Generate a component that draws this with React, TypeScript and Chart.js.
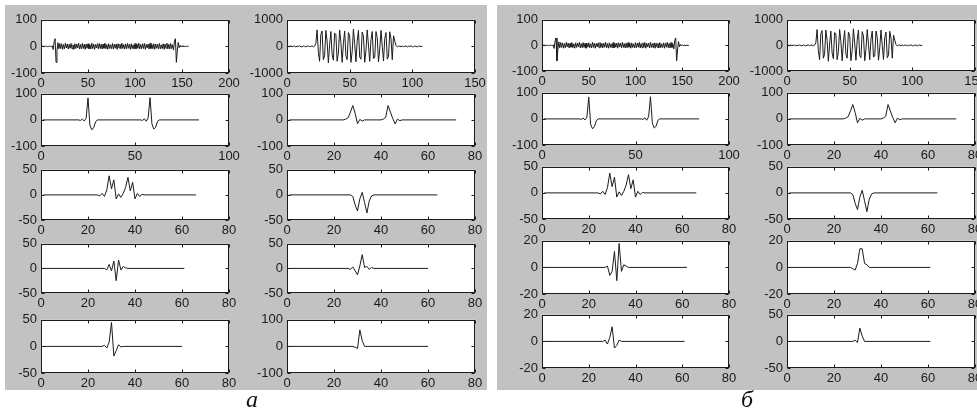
import React, { useEffect, useRef } from "react";
import { Chart, registerables } from "chart.js";
Chart.register(...registerables);

// ---------- data (sample index -> value) ----------
const sigA1: number[] = [
  0, 1, 0, -1, 1, 0, -1, 0, 1, 0, -1, 2, -12, 18, 29, -60, -16, 14, -9, 11,
  -8, 10, -11, 7, -9, 12, -6, 9, -10, 8, -7, 11, -9, 6, -11, 10, -8, 9, -6, 12,
  -10, 7, -9, 11, -8, 8, -11, 9, -7, 10, -9, 6, -10, 12, -8, 9, -11, 7, -6, 10,
  -9, 11, -8, 8, -10, 9, -7, 12, -9, 7, -11, 10, -8, 6, -9, 11, -10, 8, -7, 9,
  -11, 10, -6, 8, -9, 12, -8, 7, -10, 9, -9, 11, -7, 8, -11, 10, -8, 6, -10, 11,
  -9, 9, -7, 12, -10, 7, -9, 10, -8, 11, -11, 8, -6, 9, -10, 12, -8, 7, -9, 10,
  -11, 9, -7, 8, -10, 11, -9, 6, -8, 10, -11, 9, -7, 12, -9, 8, -10, 11, -8, 6,
  -14, 20, 29, -60, -18, 15, -5, 4, -2, 2, -1, 1, 0, -1, 1, 0, 0,
];

const sigA2: number[] = [
  10, -15, 20, -10, 5, 15, -20, 10, -5, 20, -10, -15, 15, 5, -20, 10, 15, -10, 0, 20, -15, 10,
  100, 620, -200, -560, 450, 580, -500, -350, 600, 200, -620, 50, 560, -300, -520, 500, 450,
  -560, -250, 620, 150, -600, 100, 580, -350, -500, 520, 400, -600, -200, 650, 100, -580,
  200, 600, -400, -480, 540, 380, -600, -150, 620, 50, -560, 250, 560, -450, -420, 560, 320,
  -580, -100, 600, 0, -550, 300, 520, -480, -380, 550, 280, -500, 400, 200, 30,
  -20, 15, 10, -15, 20, -10, 5, 15, -20, 10, -5, 20, -10, -15, 15, 5, -20, 10, 15, -10, 5,
];

const sigA3: [number, number][] = [
  [1, 0], [20, 0], [21, -2], [22, 3], [23, -4], [24, 6], [25, 84], [26, -20], [27, -38], [28, -30], [29, -8], [30, 0],
  [53, 0], [54, -2], [55, 4], [56, -5], [57, 8], [58, 85], [59, -15], [60, -35], [61, -28], [62, -5], [63, 0], [84, 0],
];
const sigA4: [number, number][] = [
  [1, 0], [24, 0], [25, 3], [26, 8], [27, 30], [28, 55], [29, 25], [30, -15], [31, 2], [32, -5], [33, 0],
  [40, 0], [41, 3], [42, 10], [43, 55], [44, 30], [45, 5], [46, -15], [47, 3], [48, -3], [49, 0], [72, 0],
];
const sigA5: [number, number][] = [
  [1, 0], [24, 0], [25, -2], [26, 3], [27, -3], [28, 10], [29, 38], [30, 12], [31, 30], [32, -8], [33, 2], [34, -5],
  [35, 3], [36, 15], [37, 35], [38, 8], [39, 25], [40, -8], [41, 3], [42, -3], [43, 1], [44, 0], [66, 0],
];
const sigA6: [number, number][] = [
  [1, 0], [27, 0], [28, -3], [29, -20], [30, -32], [31, -8], [32, 5], [33, -15], [34, -36], [35, -12], [36, -2], [37, 0], [64, 0],
];
const sigA7: [number, number][] = [
  [1, 0], [27, 0], [28, -3], [29, 8], [30, -5], [31, 15], [32, -25], [33, 17], [34, -3], [35, 4], [36, 1], [37, 0], [61, 0],
];
const sigA8: [number, number][] = [
  [1, 0], [26, 0], [27, -2], [28, 3], [29, -5], [30, -13], [31, 5], [32, 28], [33, 2], [34, 4], [35, -2], [36, 2], [37, 0], [60, 0],
];
const sigA9: [number, number][] = [
  [1, 0], [26, 0], [27, 2], [28, -3], [29, 8], [30, 45], [31, -18], [32, -8], [33, 3], [34, -1], [35, 0], [60, 0],
];
const sigA10: [number, number][] = [
  [1, 0], [28, 0], [29, -3], [30, -8], [31, 62], [32, 22], [33, 0], [60, 0],
];
const sigB7: [number, number][] = [
  [1, 0], [27, 0], [28, 1], [29, -6], [30, -3], [31, 12], [32, -10], [33, 18], [34, -3], [35, 2], [36, 1], [37, 0], [62, 0],
];
const sigB8: [number, number][] = [
  [1, 0], [27, 0], [28, -1], [29, -2], [30, 3], [31, 14], [32, 14], [33, 3], [34, 2], [35, 0], [61, 0],
];
const sigB9: [number, number][] = [
  [1, 0], [26, 0], [27, 1], [28, -2], [29, 3], [30, 11], [31, -5], [32, -3], [33, 1], [34, 0], [61, 0],
];
const sigB10: [number, number][] = [
  [1, 0], [28, 0], [29, 2], [30, -2], [31, 25], [32, 10], [33, 0], [61, 0],
];

// axis limits per subplot: [xMax, xStep, yLim]
const axesLeft = [[200, 50, 100], [100, 50, 100], [80, 20, 50], [80, 20, 50], [80, 20, 50]];
const axesRightA = [[150, 50, 1000], [80, 20, 100], [80, 20, 50], [80, 20, 50], [80, 20, 100]];
const axesLeftB = [[200, 50, 100], [100, 50, 100], [80, 20, 50], [80, 20, 20], [80, 20, 20]];
const axesRightB = [[150, 50, 1000], [80, 20, 100], [80, 20, 50], [80, 20, 20], [80, 20, 50]];

const panelLabels = ["а", "б"];

// ---------- layout ----------
const PAD_L = 44, PAD_T = 9, PAD_R = 16, PAD_B = 18;
const rowsA = [[17, 56], [91, 55], [167, 53], [241, 52], [317, 56]];
const rowsB = [[17, 54], [90, 55], [164, 55], [238, 56], [312, 56]];

type Spec = {
  pts: { x: number; y: number }[];
  xMax: number; xStep: number; yLim: number;
  left: number; top: number; width: number; height: number;
};

const toPts = (v: number[]) => v.map((y, i) => ({ x: i + 1, y }));
const fromPairs = (p: [number, number][]) => p.map(([x, y]) => ({ x, y }));

const boxPlugin = {
  id: "matlabBox",
  beforeDraw(chart: any) {
    const { ctx, chartArea: a } = chart;
    ctx.save();
    ctx.fillStyle = "#ffffff";
    ctx.fillRect(a.left, a.top, a.right - a.left, a.bottom - a.top);
    ctx.restore();
  },
  afterDraw(chart: any) {
    const { ctx, chartArea: a, scales } = chart;
    const L = Math.round(a.left) + 0.5, R = Math.round(a.right) - 0.5;
    const T = Math.round(a.top) + 0.5, B = Math.round(a.bottom) - 0.5;
    ctx.save();
    ctx.strokeStyle = "#1a1a1a";
    ctx.lineWidth = 1;
    ctx.beginPath();
    const tl = 3;
    scales.x.ticks.forEach((t: any) => {
      const px = Math.round(scales.x.getPixelForValue(t.value)) + 0.5;
      ctx.moveTo(px, B); ctx.lineTo(px, B - tl);
      ctx.moveTo(px, T); ctx.lineTo(px, T + tl);
    });
    scales.y.ticks.forEach((t: any) => {
      const py = Math.round(scales.y.getPixelForValue(t.value)) + 0.5;
      ctx.moveTo(L, py); ctx.lineTo(L + tl, py);
      ctx.moveTo(R, py); ctx.lineTo(R - tl, py);
    });
    ctx.stroke();
    ctx.strokeRect(L, T, R - L, B - T);
    ctx.restore();
  },
};

const FONT = { family: "'Liberation Sans', Arial, sans-serif", size: 13 };

function SubPlot({ spec }: { spec: Spec }) {
  const ref = useRef<HTMLCanvasElement>(null);
  useEffect(() => {
    if (!ref.current) return;
    const chart = new Chart(ref.current, {
      type: "line",
      data: {
        datasets: [{
          data: spec.pts,
          borderColor: "#1c1c1c",
          borderWidth: 1,
          pointRadius: 0,
          tension: 0,
          fill: false,
        }],
      },
      options: {
        animation: false,
        responsive: false,
        devicePixelRatio: 1,
        layout: { padding: { top: PAD_T, right: PAD_R, left: 0, bottom: 0 } },
        plugins: { legend: { display: false }, tooltip: { enabled: false } },
        scales: {
          x: {
            type: "linear",
            min: 0, max: spec.xMax,
            grid: { display: false, drawTicks: false },
            border: { display: false },
            ticks: { stepSize: spec.xStep, color: "#1a1a1a", font: FONT, padding: 3, maxRotation: 0, autoSkip: false, callback: (v: any) => String(v) },
            afterFit: (s: any) => { s.height = PAD_B; },
          },
          y: {
            type: "linear",
            min: -spec.yLim, max: spec.yLim,
            grid: { display: false, drawTicks: false },
            border: { display: false },
            ticks: { stepSize: spec.yLim, color: "#1a1a1a", font: FONT, padding: 4, autoSkip: false, callback: (v: any) => String(v) },
            afterFit: (s: any) => { s.width = PAD_L; },
          },
        },
      },
      plugins: [boxPlugin],
    } as any);
    return () => chart.destroy();
  }, [spec]);
  const w = spec.width + PAD_L + PAD_R;
  const h = spec.height + PAD_T + PAD_B;
  return (
    <canvas
      ref={ref}
      width={w}
      height={h}
      style={{ position: "absolute", left: spec.left - PAD_L, top: spec.top - PAD_T, width: w, height: h }}
    />
  );
}

const seriesA = [
  [toPts(sigA1), toPts(sigA2)],
  [fromPairs(sigA3), fromPairs(sigA4)],
  [fromPairs(sigA5), fromPairs(sigA6)],
  [fromPairs(sigA7), fromPairs(sigA8)],
  [fromPairs(sigA9), fromPairs(sigA10)],
];
const seriesB = [
  [toPts(sigA1), toPts(sigA2)],
  [fromPairs(sigA3), fromPairs(sigA4)],
  [fromPairs(sigA5), fromPairs(sigA6)],
  [fromPairs(sigB7), fromPairs(sigB8)],
  [fromPairs(sigB9), fromPairs(sigB10)],
];

function buildSpecs(): Spec[] {
  const out: Spec[] = [];
  for (let r = 0; r < 5; r++) {
    const [ta, ha] = rowsA[r];
    const [tb, hb] = rowsB[r];
    const la = axesLeft[r], ra = axesRightA[r], lb = axesLeftB[r], rb = axesRightB[r];
    out.push({ pts: seriesA[r][0], xMax: la[0], xStep: la[1], yLim: la[2], left: 41, top: ta, width: 188, height: ha });
    out.push({ pts: seriesA[r][1], xMax: ra[0], xStep: ra[1], yLim: ra[2], left: 287, top: ta, width: 188, height: ha });
    out.push({ pts: seriesB[r][0], xMax: lb[0], xStep: lb[1], yLim: lb[2], left: 542, top: tb, width: 187, height: hb });
    out.push({ pts: seriesB[r][1], xMax: rb[0], xStep: rb[1], yLim: rb[2], left: 787, top: tb, width: 188, height: hb });
  }
  return out;
}

const specs = buildSpecs();

export default function App() {
  return (
    <div style={{ position: "fixed", left: 0, top: 0, width: 977, height: 412, background: "#ffffff", overflow: "hidden" }}>
      <div style={{ position: "absolute", left: 5, top: 5, width: 482, height: 385, background: "#c2c2c2" }} />
      <div style={{ position: "absolute", left: 497, top: 5, width: 480, height: 385, background: "#c2c2c2" }} />
      {specs.map((s, i) => <SubPlot key={i} spec={s} />)}
      <div style={{ position: "absolute", left: 246, top: 386, font: "italic 24px 'Liberation Serif', serif", color: "#111" }}>{panelLabels[0]}</div>
      <div style={{ position: "absolute", left: 741, top: 386, font: "italic 24px 'Liberation Serif', serif", color: "#111" }}>{panelLabels[1]}</div>
    </div>
  );
}
